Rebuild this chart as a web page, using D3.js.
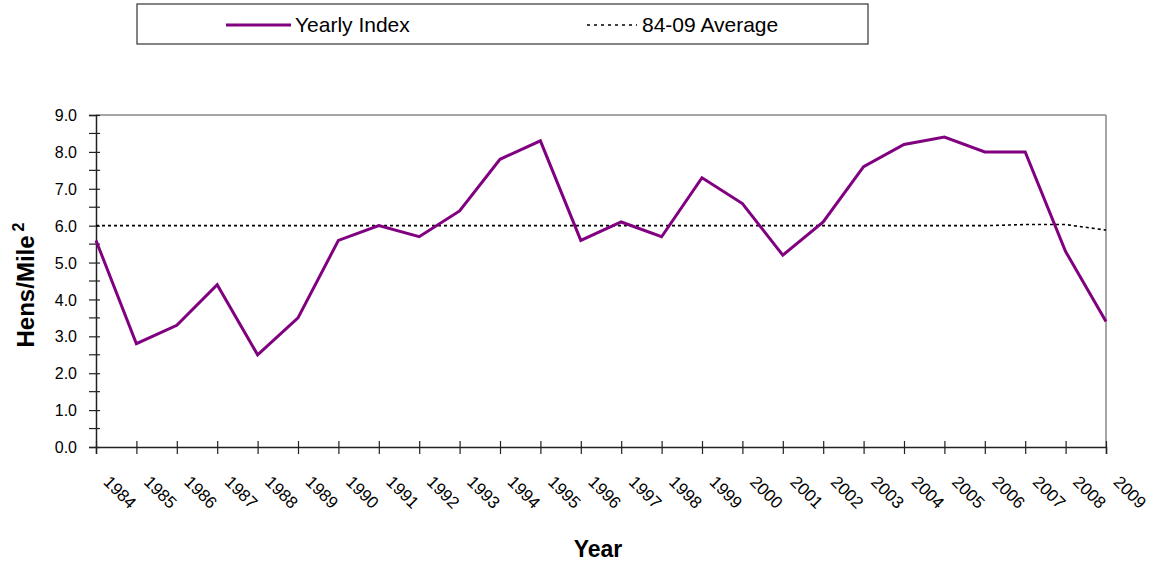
<!doctype html>
<html lang="en">
<head>
<meta charset="utf-8">
<title>Hens per square mile</title>
<style>
  body { margin: 0; background: #fff; }
  text { font-family: "Liberation Sans", Arial, sans-serif; }
</style>
<script src="https://d3js.org/d3.v7.min.js"></script>
</head>
<body>
<div id="chart"></div>
<script>
// data
var years = [1984, 1985, 1986, 1987, 1988, 1989, 1990, 1991, 1992, 1993, 1994, 1995, 1996,
             1997, 1998, 1999, 2000, 2001, 2002, 2003, 2004, 2005, 2006, 2007, 2008, 2009];
var yearlyIndex = [5.6, 2.8, 3.3, 4.4, 2.5, 3.5, 5.6, 6.0, 5.7, 6.4, 7.8, 8.3, 5.6,
                   6.1, 5.7, 7.3, 6.6, 5.2, 6.1, 7.6, 8.2, 8.4, 8.0, 8.0, 5.3, 3.4];
var average = [6.0, 6.0, 6.0, 6.0, 6.0, 6.0, 6.0, 6.0, 6.0, 6.0, 6.0, 6.0, 6.0,
               6.0, 6.0, 6.0, 6.0, 6.0, 6.0, 6.0, 6.0, 6.0, 6.0, 6.03, 6.03, 5.88];
var yTicks = [0, 1, 2, 3, 4, 5, 6, 7, 8, 9];
var seriesNames = ["Yearly Index", "84-09 Average"];

var W = 1159, H = 565;
var margin = {top: 115, right: 53, bottom: 118, left: 96};
var width = W - margin.left - margin.right,
    height = H - margin.top - margin.bottom;

var svg = d3.select("#chart").append("svg")
  .attr("width", W)
  .attr("height", H);

var g = svg.append("g")
  .attr("transform", "translate(" + margin.left + "," + margin.top + ")");

var x = d3.scaleLinear().domain([d3.min(years), d3.max(years)]).range([0, width]);
var y = d3.scaleLinear().domain([0, 9]).range([height, 0]);

// plot frame (top & right in grey)
g.append("line").attr("x1", 0).attr("x2", width).attr("y1", 0).attr("y2", 0)
  .style("stroke", "#888").style("stroke-width", 1.5);
g.append("line").attr("x1", width).attr("x2", width).attr("y1", 0).attr("y2", height)
  .style("stroke", "#888").style("stroke-width", 1.5);

// minor y ticks at the half values
var minor = d3.range(0.5, 9, 1);
g.selectAll(".minor").data(minor).enter().append("line")
  .attr("class", "minor")
  .attr("x1", -7).attr("x2", 4)
  .attr("y1", function(d) { return y(d); })
  .attr("y2", function(d) { return y(d); })
  .style("stroke", "#222").style("stroke-width", 1.2);

// y axis
var yAxis = d3.axisLeft(y).tickValues(yTicks).tickFormat(d3.format(".1f")).tickSize(7);
var ya = g.append("g").call(yAxis);
ya.select(".domain").style("stroke", "#222").style("stroke-width", 1.5);
ya.selectAll(".tick line").attr("x2", -7).attr("x1", 4).style("stroke", "#222").style("stroke-width", 1.2);
ya.selectAll(".tick text").style("font-size", "16px").attr("fill", "#000")
  .attr("font-family", "Liberation Sans, Arial, sans-serif").attr("dy", "0.35em").attr("x", -19);

// x axis
var xAxis = d3.axisBottom(x).tickValues(years).tickFormat(d3.format("d")).tickSize(7);
var xa = g.append("g").attr("transform", "translate(0," + height + ")").call(xAxis);
xa.select(".domain").style("stroke", "#222").style("stroke-width", 1.5);
xa.selectAll(".tick line").attr("y1", -6).attr("y2", 7).style("stroke", "#222").style("stroke-width", 1.2);
xa.selectAll(".tick text")
  .style("font-size", "17px").attr("fill", "#000")
  .attr("font-family", "Liberation Sans, Arial, sans-serif")
  .attr("y", 0).attr("dy", 0)
  .attr("text-anchor", "start")
  .attr("transform", "translate(6,36) rotate(45)");

// average line (dotted)
var line = d3.line()
  .x(function(d, i) { return x(years[i]); })
  .y(function(d) { return y(d); });

g.append("path")
  .datum(average)
  .attr("d", line)
  .style("fill", "none")
  .style("stroke", "#000")
  .style("stroke-width", 1.6)
  .style("stroke-dasharray", "3,3");

// yearly index line
g.append("path")
  .datum(yearlyIndex)
  .attr("d", line)
  .style("fill", "none")
  .style("stroke", "#800080")
  .style("stroke-width", 3);

// axis titles
svg.append("text")
  .attr("x", margin.left + width / 2 - 3)
  .attr("y", 557)
  .style("text-anchor", "middle")
  .style("font-weight", "bold")
  .style("font-size", "23px")
  .text("Year");

var yt = svg.append("text")
  .attr("transform", "translate(34,285) rotate(-90)")
  .style("text-anchor", "middle")
  .style("font-weight", "bold")
  .style("font-size", "24px");
yt.append("tspan").text("Hens/Mile");
yt.append("tspan").attr("dx", 4).attr("dy", -10).style("font-size", "16px").text("2");

// legend
var legend = svg.append("g");
legend.append("rect")
  .attr("x", 137).attr("y", 4).attr("width", 731).attr("height", 40)
  .style("fill", "#fff").style("stroke", "#333").style("stroke-width", 1.2);

legend.append("line")
  .attr("x1", 226).attr("x2", 291).attr("y1", 25).attr("y2", 25)
  .style("stroke", "#800080").style("stroke-width", 3);
legend.append("text")
  .attr("x", 295).attr("y", 32)
  .style("font-size", "21px")
  .text(seriesNames[0]);

legend.append("line")
  .attr("x1", 587).attr("x2", 637).attr("y1", 25).attr("y2", 25)
  .style("stroke", "#000").style("stroke-width", 1.6).style("stroke-dasharray", "3,4");
legend.append("text")
  .attr("x", 642).attr("y", 32)
  .style("font-size", "21px")
  .text(seriesNames[1]);
</script>
</body>
</html>
